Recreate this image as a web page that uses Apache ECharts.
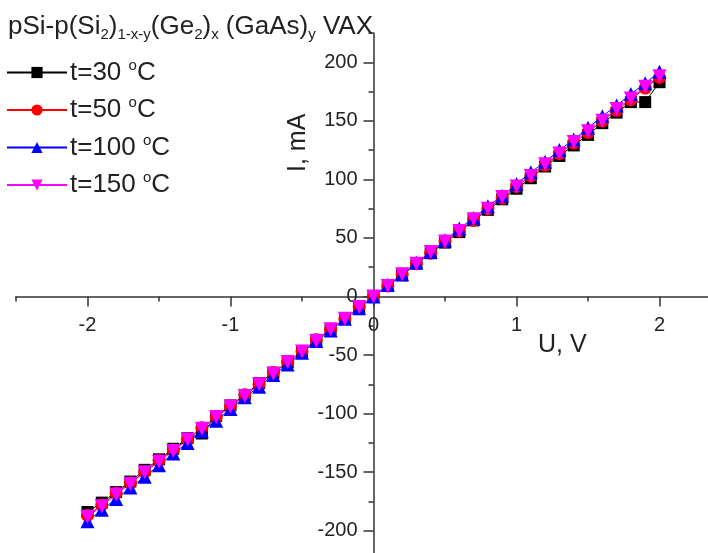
<!DOCTYPE html>
<html>
<head>
<meta charset="utf-8">
<script src="https://cdn.jsdelivr.net/npm/echarts@6/dist/echarts.min.js"></script>
<style>
  html, body { margin: 0; padding: 0; background: #fff; }
  #vaxChart { width: 708px; height: 553px; }
</style>
</head>
<body>
<div id="vaxChart"></div>
<script>
// voltage, V
const voltage = [-2.0, -1.9, -1.8, -1.7, -1.6, -1.5, -1.4, -1.3, -1.2, -1.1, -1.0,
  -0.9, -0.8, -0.7, -0.6, -0.5, -0.4, -0.3, -0.2, -0.1, 0.0,
  0.1, 0.2, 0.3, 0.4, 0.5, 0.6, 0.7, 0.8, 0.9, 1.0,
  1.1, 1.2, 1.3, 1.4, 1.5, 1.6, 1.7, 1.8, 1.9, 2.0];

// current, mA
const current30 = [-184, -176, -167, -158, -148, -139, -130, -121, -117, -102, -93,
  -84, -74, -65, -56, -47, -37, -28, -19, -9, 0,
  9, 18, 28, 37, 46, 55, 65, 74, 83, 92,
  101, 111, 120, 129, 138, 148, 157, 166, 166, 183];
const current50 = [-187, -178, -168, -159, -150, -140, -131, -122, -112, -103, -94,
  -84, -75, -65, -56, -47, -37, -28, -19, -9, 0,
  9, 19, 28, 37, 47, 56, 65, 75, 84, 94,
  103, 112, 122, 131, 140, 150, 159, 168, 178, 187];
const current100 = [-192, -182, -173, -163, -154, -144, -134, -125, -115, -106, -96,
  -86, -77, -67, -58, -48, -38, -29, -19, -10, 0,
  10, 19, 29, 38, 48, 58, 67, 77, 86, 96,
  106, 115, 125, 134, 144, 154, 163, 173, 182, 192];
const current150 = [-188, -179, -169, -160, -150, -141, -132, -122, -113, -103, -94,
  -85, -75, -66, -56, -47, -38, -28, -19, -9, 0,
  9, 19, 28, 38, 47, 56, 66, 75, 85, 94,
  103, 113, 122, 132, 141, 150, 160, 169, 179, 188];

const seriesNames = ['t=30 {sup|o}C', 't=50 {sup|o}C', 't=100 {sup|o}C', 't=150 {sup|o}C'];
const xLabels = [-2, -1, 0, 1, 2];
const yLabels = [-200, -150, -100, -50, 0, 50, 100, 150, 200];

const FONT = 'Liberation Sans';

const pairs = (ys) => voltage.map((u, i) => [u, ys[i]]);

let myChart = echarts.init(document.getElementById('vaxChart'));

// plot box: x -2.5..2.5 over 715px, y -225..225 over 527px (partly off canvas)
const W = 708, H = 553;
const box = {left: 16, right: -23, top: 33, bottom: -7};
const boxW = W - box.left - box.right;
const boxH = H - box.top - box.bottom;
// axes cross at zero: shift them in from the box edges
const xShift = -boxH / 2;
const yShift = -boxW / 2;

const tickLine = {color: '#333', width: 1.5};

const mainX = {
  type: 'value', min: -2.5, max: 2.5, interval: 0.5, position: 'bottom', offset: xShift,
  axisLine: {onZero: false, lineStyle: tickLine},
  axisTick: {length: 5, lineStyle: tickLine},
  axisLabel: {
    margin: 19, fontSize: 20, color: '#222', fontFamily: FONT,
    formatter: function (v) {
      return xLabels.indexOf(Math.round(v * 10) / 10) >= 0 ? String(Math.round(v)) : '';
    }
  },
  splitLine: {show: false}
};
const mainY = {
  type: 'value', min: -225, max: 225, interval: 25, position: 'left', offset: yShift,
  axisLine: {onZero: false, lineStyle: tickLine},
  axisTick: {length: 5, lineStyle: tickLine},
  axisLabel: {
    margin: 16, fontSize: 20, color: '#222', fontFamily: FONT,
    formatter: function (v) {
      return yLabels.indexOf(Math.round(v)) >= 0 ? String(Math.round(v)) : '';
    }
  },
  splitLine: {show: false}
};
// overlay axes only for the longer major ticks
const majorX = {
  type: 'value', min: -2.5, max: 2.5, position: 'bottom', offset: xShift,
  axisLine: {show: false, onZero: false},
  axisTick: {customValues: xLabels, length: 10, lineStyle: tickLine},
  axisLabel: {show: false},
  splitLine: {show: false}
};
const majorY = {
  type: 'value', min: -225, max: 225, position: 'left', offset: yShift,
  axisLine: {show: false, onZero: false},
  axisTick: {customValues: yLabels, length: 10, lineStyle: tickLine},
  axisLabel: {show: false},
  splitLine: {show: false}
};

const styles = [
  {color: '#000000', symbol: 'rect', size: 12, rotate: 0},
  {color: '#ff0000', symbol: 'circle', size: 13, rotate: 0},
  {color: '#0000ff', symbol: 'triangle', size: 14, rotate: 0},
  {color: '#ff00ff', symbol: 'triangle', size: 14, rotate: 180}
];
const allData = [current30, current50, current100, current150];

let option = {
  animation: false,
  title: {
    text: 'pSi-p(Si{sub|2}){sub|1-x-y}(Ge{sub|2}){sub|x} (GaAs){sub|y} VAX',
    left: 8, top: 11, padding: 0,
    textStyle: {
      fontSize: 26, fontWeight: 'normal', color: '#222', fontFamily: FONT,
      rich: {sub: {fontSize: 15, color: '#222', fontFamily: FONT, padding: [16, 0, 0, 0]}}
    }
  },
  legend: {
    orient: 'vertical', left: 6, top: 58, padding: 0,
    itemWidth: 60, itemHeight: 14, itemGap: 10,
    data: seriesNames,
    textStyle: {
      fontSize: 26, color: '#222', fontFamily: FONT, padding: [0, 0, 0, -2],
      rich: {sup: {fontSize: 15, color: '#222', fontFamily: FONT, padding: [0, 0, 14, 0]}}
    }
  },
  grid: Object.assign({outerBoundsMode: 'none', containLabel: false}, box),
  xAxis: [mainX, majorX],
  yAxis: [mainY, majorY],
  graphic: [
    {type: 'text', left: 538, top: 333, style: {text: 'U, V', fontSize: 25, fill: '#222', fontFamily: FONT}},
    {type: 'text', x: 286, y: 172, rotation: Math.PI / 2,
      style: {text: 'I, mA', fontSize: 25, fill: '#222', fontFamily: FONT}}
  ],
  series: seriesNames.map((name, k) => ({
    name: name,
    type: 'line',
    data: pairs(allData[k]),
    symbol: styles[k].symbol,
    symbolSize: styles[k].size,
    symbolRotate: styles[k].rotate,
    color: styles[k].color,
    lineStyle: {width: 1, color: styles[k].color},
    itemStyle: {color: styles[k].color}
  }))
};
myChart.setOption(option);
</script>
</body>
</html>
